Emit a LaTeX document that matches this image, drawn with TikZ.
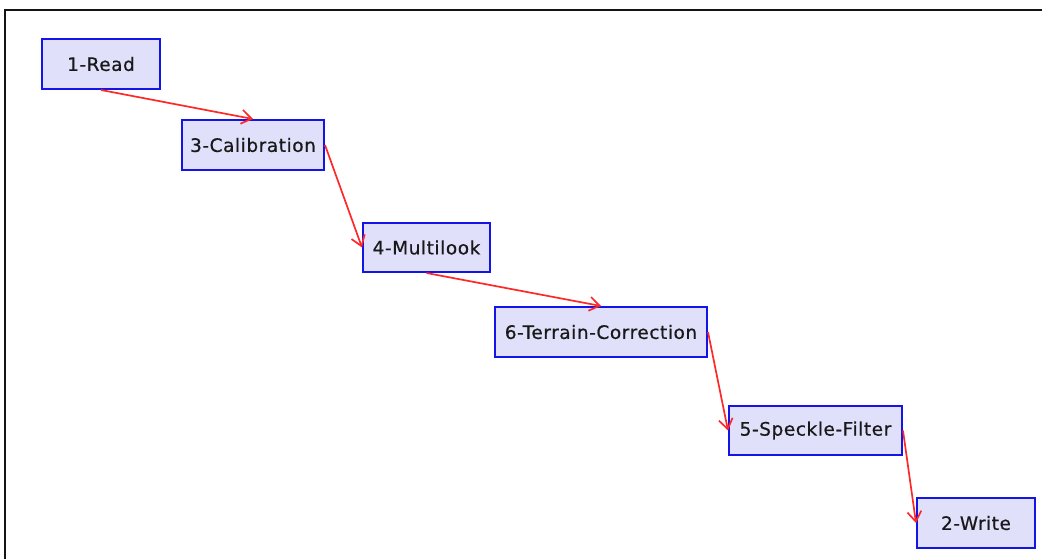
\documentclass[tikz,border=0pt]{standalone}
\usepackage{fontspec}
\setmainfont{DejaVu Sans}
\newfontfamily\opfont[LetterSpace=3,FakeBold=0.6]{DejaVu Sans}
\usetikzlibrary{arrows.meta}
\definecolor{boxfill}{RGB}{224,224,250}
\definecolor{boxline}{RGB}{20,20,230}
\definecolor{edgecol}{RGB}{255,40,40}
\definecolor{framecol}{RGB}{20,20,20}
\begin{document}
\begin{tikzpicture}[x=1pt,y=-1pt,
  opbox/.style={draw=boxline,line width=2pt,fill=boxfill,rectangle,inner sep=0pt,
    minimum height=50pt,font=\opfont\fontsize{18.5}{21}\selectfont,text=black!90},
  flow/.style={draw=edgecol,line width=1.7pt,-{Straight Barb[length=10pt,width=14pt,line width=1.7pt]}}]
\useasboundingbox (0,0) rectangle (1042,559);
\draw[framecol,line width=2.4pt] (5,570) -- (5,10) -- (1050,10);
\node[opbox,minimum width=118pt] (read) at (101,64) {1-Read};
\node[opbox,minimum width=142pt] (calib) at (253,145) {3-Calibration};
\node[opbox,minimum width=127pt,minimum height=49pt] (multi) at (426.5,247.5) {4-Multilook};
\node[opbox,minimum width=212pt] (terrain) at (601,332) {6-Terrain-Correction};
\node[opbox,minimum width=173pt,minimum height=49pt] (speckle) at (815.5,430.5) {5-Speckle-Filter};
\node[opbox,minimum width=118pt] (write) at (976,523) {2-Write};
\draw[flow] (read.south) -- (calib.north);
\draw[flow] (calib.east) -- (multi.west);
\draw[flow] (multi.south) -- (terrain.north);
\draw[flow] (terrain.east) -- (speckle.west);
\draw[flow] (speckle.east) -- (write.west);
\end{tikzpicture}
\end{document}
